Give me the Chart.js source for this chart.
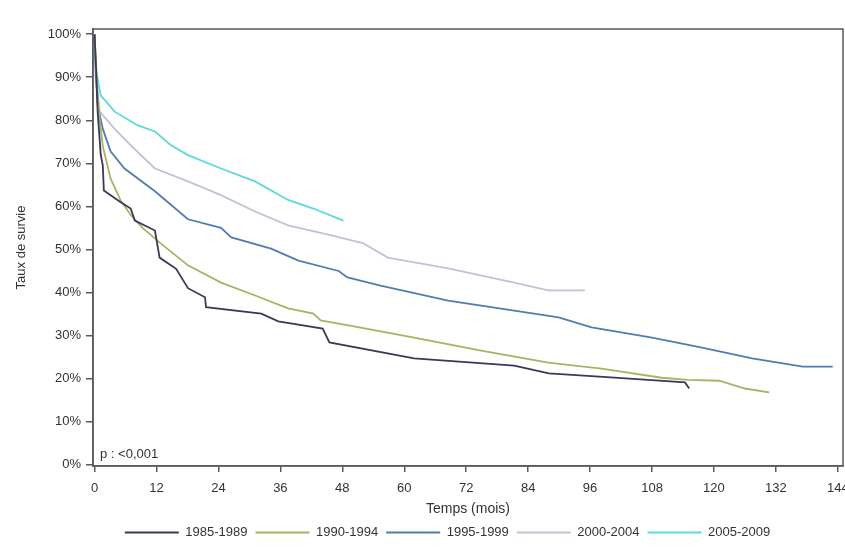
<!DOCTYPE html>
<html>
<head>
<meta charset="utf-8">
<script src="https://cdn.jsdelivr.net/npm/chart.js@4.4.1/dist/chart.umd.min.js"></script>
<style>
  body { margin: 0; background: #fff; }
</style>
</head>
<body>
<canvas id="survieChart" width="845" height="549"></canvas>
<script>
// valeurs (mois, % de survie)
const periods = ['1985-1989', '1990-1994', '1995-1999', '2000-2004', '2005-2009'];
const colors = ['#383a5a', '#a9b265', '#4f7db0', '#c6bfd6', '#5ed8da'];

const months1985 = [0, 0.3, 0.6, 1.2, 1.6, 1.8, 5, 7, 7.8, 11.7, 12.6, 15.8, 18.1, 21.4, 21.6, 32.3, 35.6, 44.2, 45.5, 61.9, 81.3, 88, 100, 114.4, 115.2];
const surv1985 = [100, 92, 82, 72, 69.5, 63.7, 61, 59.5, 56.7, 54.4, 48.1, 45.5, 41, 38.9, 36.6, 35.1, 33.3, 31.6, 28.4, 24.7, 23, 21.2, 20.3, 19.1, 17.7];

const months1990 = [0, 0.5, 1, 1.6, 3.1, 5, 7, 9.3, 12.8, 18.1, 24.5, 31.1, 37.5, 42.4, 43.8, 50, 61.9, 74.9, 87.9, 98.2, 109.9, 115, 121, 126, 130.7];
const surv1990 = [100, 88, 80, 74, 66.5, 61.5, 58, 55, 51.4, 46.3, 42.3, 39.3, 36.3, 35.1, 33.5, 32.2, 29.5, 26.5, 23.7, 22.3, 20.2, 19.7, 19.5, 17.7, 16.8];

const months1995 = [0, 0.3, 0.6, 1.6, 3.1, 5.8, 11.7, 18.1, 24.5, 26.5, 34.2, 39.5, 47.3, 49, 55.4, 68.5, 81.3, 89.9, 96.3, 108, 117.7, 127.4, 137.2, 143];
const surv1995 = [100, 90, 83.5, 78, 72.8, 68.8, 63.5, 57, 55, 52.8, 50.2, 47.4, 45, 43.5, 41.6, 38.1, 35.8, 34.2, 31.9, 29.5, 27.2, 24.7, 22.8, 22.8];

const months2000 = [0, 0.2, 1, 3.9, 7, 11.7, 18.1, 24.5, 31.1, 37.5, 45.7, 52.1, 56.8, 68.5, 81.3, 87.9, 95];
const surv2000 = [100, 90, 82, 78, 74.2, 68.8, 65.8, 62.6, 58.8, 55.6, 53.3, 51.4, 48.1, 45.6, 42.3, 40.5, 40.5];

const months2005 = [0, 0.2, 1.2, 3.9, 8.4, 11.7, 14.8, 18.1, 24.5, 31.1, 37.5, 42.4, 48.2];
const surv2005 = [100, 92, 85.8, 82, 78.8, 77.4, 74.2, 71.9, 68.8, 65.8, 61.5, 59.5, 56.7];

const xTicks = [0, 12, 24, 36, 48, 60, 72, 84, 96, 108, 120, 132, 144];
const yTicks = [0, 10, 20, 30, 40, 50, 60, 70, 80, 90, 100];

const allMonths = [months1985, months1990, months1995, months2000, months2005];
const allSurv = [surv1985, surv1990, surv1995, surv2000, surv2005];

const datasets = periods.map((p, i) => ({
  label: p,
  data: allMonths[i].map((m, j) => ({ x: m, y: allSurv[i][j] })),
  borderColor: colors[i],
  backgroundColor: colors[i],
  borderWidth: 1.8,
  pointRadius: 0,
  tension: 0,
  fill: false
}));

const axisColor = '#5a5a5a';
const textColor = '#333';
const fontFamily = '"Liberation Sans", Arial, sans-serif';

const framePlugin = {
  id: 'frame',
  afterLayout(chart) {
    // décale la légende comme sur l'original
    chart.legend.left += 26;
    chart.legend.right += 26;
  },
  afterDraw(chart) {
    const { ctx, chartArea } = chart;
    ctx.save();
    ctx.strokeStyle = axisColor;
    ctx.lineWidth = 1.5;
    ctx.strokeRect(chartArea.left, chartArea.top, chartArea.right - chartArea.left, chartArea.bottom - chartArea.top);
    ctx.fillStyle = textColor;
    ctx.font = '13px ' + fontFamily;
    ctx.textBaseline = 'middle';
    ctx.fillText('p : <0,001', chartArea.left + 7, chartArea.bottom - 12);
    ctx.restore();
  }
};

new Chart(document.getElementById('survieChart'), {
  type: 'line',
  data: { datasets },
  plugins: [framePlugin],
  options: {
    responsive: false,
    animation: false,
    layout: { padding: { left: 0, top: 29, right: 2, bottom: 0 } },
    plugins: {
      tooltip: { enabled: false },
      legend: {
        position: 'bottom',
        labels: {
          usePointStyle: true,
          pointStyle: 'line',
          pointStyleWidth: 54,
          padding: 8,
          color: textColor,
          font: { family: fontFamily, size: 13 }
        }
      }
    },
    scales: {
      x: {
        type: 'linear',
        min: -0.3,
        max: 145,
        afterBuildTicks: s => { s.ticks = xTicks.map(v => ({ value: v })); },
        afterFit: s => { s.height = 52; s.paddingRight = 0; s.paddingLeft = 0; },
        grid: { drawOnChartArea: false, tickLength: 6, color: axisColor, lineWidth: 1.5 },
        border: { color: axisColor, width: 1.5 },
        ticks: { color: textColor, padding: 9, maxRotation: 0, font: { family: fontFamily, size: 13 } },
        title: { display: true, text: 'Temps (mois)', color: textColor, padding: { top: 0, bottom: 0 }, font: { family: fontFamily, size: 14 } }
      },
      y: {
        min: -0.3,
        max: 101.2,
        afterBuildTicks: s => { s.ticks = yTicks.map(v => ({ value: v })); },
        afterFit: s => { s.width = 93; },
        grid: { drawOnChartArea: false, tickLength: 7, color: axisColor, lineWidth: 1.5 },
        border: { color: axisColor, width: 1.5 },
        ticks: { color: textColor, padding: 5, font: { family: fontFamily, size: 13 }, callback: v => v + '%' },
        title: { display: true, text: 'Taux de survie', color: textColor, padding: { top: 14, bottom: 0 }, font: { family: fontFamily, size: 13 } }
      }
    }
  }
});
</script>
</body>
</html>
